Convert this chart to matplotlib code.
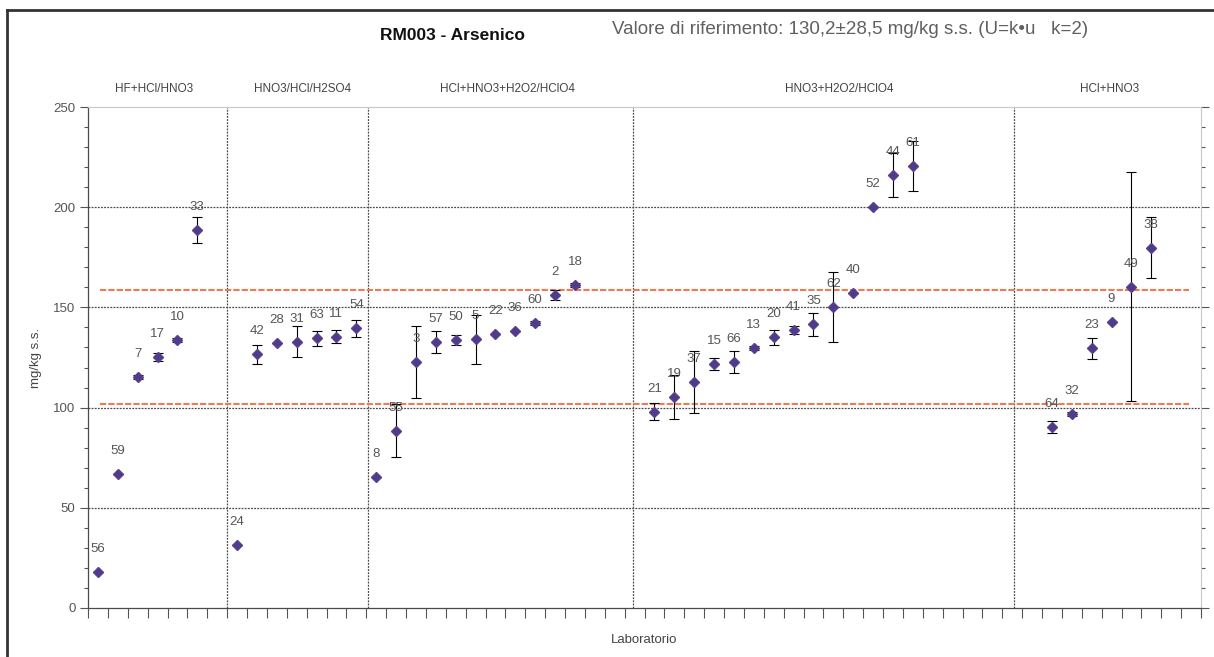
"""
RM003 - Arsenico: lab results with expanded uncertainty, grouped by digestion method
"""
import numpy as np
import matplotlib
matplotlib.use("Agg")
from matplotlib import pyplot as plt, ticker
from matplotlib.lines import Line2D

plt.rcParams["font.family"] = ["Liberation Sans", "DejaVu Sans"]

GROUPS = ["HF+HCl/HNO3", "HNO3/HCl/H2SO4", "HCl+HNO3+H2O2/HClO4",
          "HNO3+H2O2/HClO4", "HCl+HNO3"]

# lab ids, results (mg/kg s.s.) and uncertainty, one set per group
labs_1 = ["56", "59", "7", "17", "10", "33"]
vals_1 = [18.1, 66.7, 115.4, 125.1, 133.7, 188.6]
errs_1 = [0, 0, 1.0, 2.0, 1.0, 6.3]

labs_2 = ["24", "42", "28", "31", "63", "11", "54"]
vals_2 = [31.4, 126.6, 132.1, 132.9, 134.6, 135.4, 139.6]
errs_2 = [0, 4.8, 0, 7.6, 3.7, 3.3, 4.2]

labs_3 = ["8", "55", "3", "57", "50", "5", "22", "36", "60", "2", "18"]
vals_3 = [65.5, 88.5, 122.9, 132.9, 133.7, 134.1, 136.7, 138.2, 142.1, 156.2, 161.2]
errs_3 = [0, 13.2, 18.0, 5.5, 2.5, 12.3, 0, 0, 1.0, 2.5, 1.0]

labs_4 = ["21", "19", "37", "15", "66", "13", "20", "41", "35", "62", "40", "52", "44", "61"]
vals_4 = [98.0, 105.4, 112.6, 121.8, 122.9, 129.6, 135.1, 138.7, 141.6, 150.3,
          157.3, 200.2, 216.1, 220.6]
errs_4 = [4.2, 11.0, 15.4, 3.0, 5.5, 1.0, 3.7, 2.0, 5.8, 17.6, 0, 0, 10.9, 12.5]

labs_5 = ["64", "32", "23", "9", "49", "38"]
vals_5 = [90.2, 96.6, 129.6, 142.9, 160.3, 179.8]
errs_5 = [3.0, 1.0, 5.2, 0, 57.2, 15.3]

REF_VALUE = 130.2
REF_U = 28.5

# layout: first slot of each group, divider positions, group name positions
GROUP_START = [0, 7, 14, 28, 48]
DIVIDERS = [7, 14.1, 27.4, 46.6]
GROUP_NAME_X = [3.3, 10.8, 21.1, 37.8, 51.4]
N_SLOTS = 56

W, H = 1214, 657
fig = plt.figure(figsize=(W / 100, H / 100), dpi=100)
ax = fig.add_axes([88 / W, 1 - 608 / H, (1201 - 88) / W, (608 - 107) / H])

DARK = "#4a4a4a"
GRID_LS = (0, (1.5, 1))

for start, labs, vals, errs in zip(GROUP_START,
                                   [labs_1, labs_2, labs_3, labs_4, labs_5],
                                   [vals_1, vals_2, vals_3, vals_4, vals_5],
                                   [errs_1, errs_2, errs_3, errs_4, errs_5]):
    x = start + np.arange(len(vals)) + 0.5
    ax.errorbar(x, vals, yerr=errs, fmt="none", ecolor="black", elinewidth=0.8,
                capsize=3.5, capthick=0.8, zorder=3)
    ax.plot(x, vals, "D", color="#4b3c8c", markersize=5, markeredgecolor="#5e3f8c",
            zorder=4)
    for xi, v, lab in zip(x, vals, labs):
        ax.annotate(lab, (xi, v), xytext=(0, 16.5), textcoords="offset points",
                    ha="center", va="center", fontsize=9.5, color="#555555", zorder=5)

# reference value +/- uncertainty
for yl in (REF_VALUE + REF_U, REF_VALUE - REF_U):
    ax.plot([0.6, N_SLOTS - 0.6], [yl, yl], color="#f27a52", lw=1.5,
            ls=(0, (3, 1)), zorder=2)

# horizontal grid and group dividers
for yg in (50, 100, 150, 200):
    ax.axhline(yg, color=DARK, lw=0.9, ls=GRID_LS, zorder=1)
ax.axhline(250, color="#c8c8c8", lw=1.2, zorder=1)
for xd in DIVIDERS:
    ax.axvline(xd, color=DARK, lw=0.9, ls=GRID_LS, zorder=1)

# group names above the plot area
for name, xn in zip(GROUPS, GROUP_NAME_X):
    ax.text(xn, 1.035, name, transform=ax.get_xaxis_transform(),
            ha="center", va="center", fontsize=8.5, color="#444444")

ax.set_xlim(0, N_SLOTS)
ax.set_ylim(0, 250)
ax.xaxis.set_major_locator(ticker.MultipleLocator(1))
ax.xaxis.set_major_formatter(ticker.NullFormatter())
ax.yaxis.set_major_locator(ticker.MultipleLocator(50))
ax.yaxis.set_minor_locator(ticker.MultipleLocator(10))
ax.tick_params(axis="x", direction="out", length=7, width=0.8, color="#555555")
ax.tick_params(axis="y", which="major", direction="out", length=6, width=0.8,
               color="#555555", labelsize=9.5, labelcolor="#555555", pad=3)
ax.tick_params(axis="y", which="minor", direction="out", length=3, width=0.8,
               color="#555555")
ax.tick_params(axis="y", which="both", right=True)

for side in ("left", "bottom"):
    ax.spines[side].set_color(DARK)
    ax.spines[side].set_linestyle(GRID_LS)
    ax.spines[side].set_linewidth(0.9)
for side in ("top", "right"):
    ax.spines[side].set_color("#c8c8c8")

ax.set_xlabel("Laboratorio", fontsize=9.5, color="#444444", labelpad=8)
ax.set_ylabel("mg/kg s.s.", fontsize=9.5, color="#444444", labelpad=8)

fig.text(452 / W, 1 - 36 / H, "RM003 - Arsenico", ha="center", va="center",
         fontsize=12.5, fontweight="bold", color="#111111")
fig.text(612 / W, 1 - 30 / H,
         "Valore di riferimento: 130,2\u00b128,5 mg/kg s.s. (U=k\u2022u   k=2)",
         ha="left", va="center", fontsize=13.5, color="#606060")

# frame around the chart
fig.add_artist(Line2D([7 / W, 1], [1 - 10 / H] * 2, color="#333333", lw=2))
fig.add_artist(Line2D([7 / W] * 2, [0, 1 - 10 / H], color="#333333", lw=2))

fig.savefig("out.png", dpi=100)
